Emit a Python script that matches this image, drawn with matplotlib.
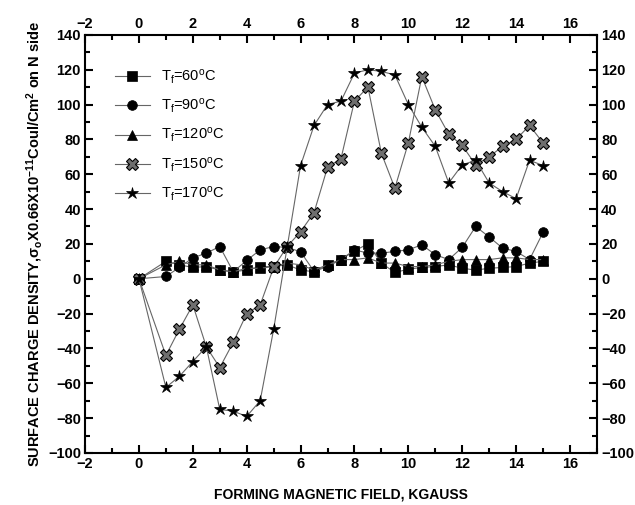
import matplotlib
matplotlib.use('Agg')
import matplotlib.pyplot as plt
from matplotlib.ticker import MultipleLocator

plt.rcParams['font.family'] = ['Liberation Sans', 'DejaVu Sans']
plt.rcParams['font.weight'] = 'bold'
plt.rcParams['mathtext.default'] = 'regular'

x = [0, 1, 1.5, 2, 2.5, 3, 3.5, 4, 4.5, 5, 5.5, 6, 6.5, 7, 7.5, 8,
     8.5, 9, 9.5, 10, 10.5, 11, 11.5, 12, 12.5, 13, 13.5, 14, 14.5, 15]

t60 = [0, 10, 8, 6.5, 7, 5, 4, 5, 7, 7, 8, 5, 4, 8, 11, 16,
       20, 9, 3.6, 5.5, 6.5, 7, 8, 6, 5, 6, 6.5, 7, 9, 10]
t90 = [0, 1.3, 6.5, 12, 14.7, 18.5, 4, 10.5, 16.6, 18.5, 18, 15.5, 4.2, 7, 11, 16.6,
       14.7, 14.7, 15.7, 16.6, 19.5, 13.8, 11, 18, 30, 24, 17.6, 15.7, 11, 26.6]
t120 = [0, 8, 10, 8, 8, 5, 4, 6, 6, 7, 9, 8, 5, 8, 11, 11,
        12, 9, 9, 7, 7, 8, 10, 11, 11, 11, 12, 12, 11, 11]
t150 = [0, -44, -29, -15, -39, -51, -36.5, -20, -15, 6.5, 18.5, 27, 38, 64, 69, 102,
        110, 72, 52, 78, 116, 97, 83, 76.5, 65.4, 70, 76, 80, 88, 78]
t170 = [0, -62.4, -56, -47.5, -39, -75, -76, -79, -70, -29, 18, 65, 88, 100, 102, 118,
        120, 119, 117, 100, 87, 76, 55, 65.4, 68, 55, 50, 46, 68, 65]

series = [
    (t60, 's', 'black', 60),
    (t90, 'o', 'black', 90),
    (t120, '^', 'black', 120),
    (t150, 'X', '#6e6e6e', 150),
    (t170, '*', 'black', 170),
]

fig = plt.figure(figsize=(6.35, 5.05), dpi=100)
ax = fig.add_axes([0.134, 0.103, 0.806, 0.828])

for vals, mk, fc, temp in series:
    ms = 7
    if mk == '*':
        ms = 9
    elif mk == 'X':
        ms = 8
    ax.plot(x, vals, color='#666666', lw=0.8, marker=mk, ms=ms,
            mfc=fc, mec='black', mew=0.8 if mk == 'X' else 0.5,
            label='T$_f$=%d$^o$C' % temp)

ax.set_xlim(-2, 17)
ax.set_ylim(-100, 140)
ax.xaxis.set_major_locator(MultipleLocator(2))
ax.xaxis.set_minor_locator(MultipleLocator(1))
ax.yaxis.set_major_locator(MultipleLocator(20))
ax.yaxis.set_minor_locator(MultipleLocator(10))

ax.tick_params(which='both', direction='in', top=True, right=True,
               labeltop=True, labelright=True, width=1.5)
ax.tick_params(which='major', length=6, labelsize=10.5, pad=3)
ax.tick_params(which='minor', length=3.5)
for sp in ax.spines.values():
    sp.set_linewidth(1.5)

ax.set_xlabel('FORMING MAGNETIC FIELD, KGAUSS', fontsize=10, fontweight='bold',
              labelpad=12)
ax.set_ylabel('SURFACE CHARGE DENSITY,$\\sigma_o$X0.66X10$^{-11}$Coul/Cm$^2$ on N side',
              fontsize=10.5, fontweight='bold', labelpad=2)

ax.legend(loc='upper left', bbox_to_anchor=(0.035, 0.95), frameon=False,
          prop={'size': 10.5, 'weight': 'normal'},
          handlelength=2.4, labelspacing=0.75, borderpad=0.3)

fig.savefig('out.png', dpi=100)
